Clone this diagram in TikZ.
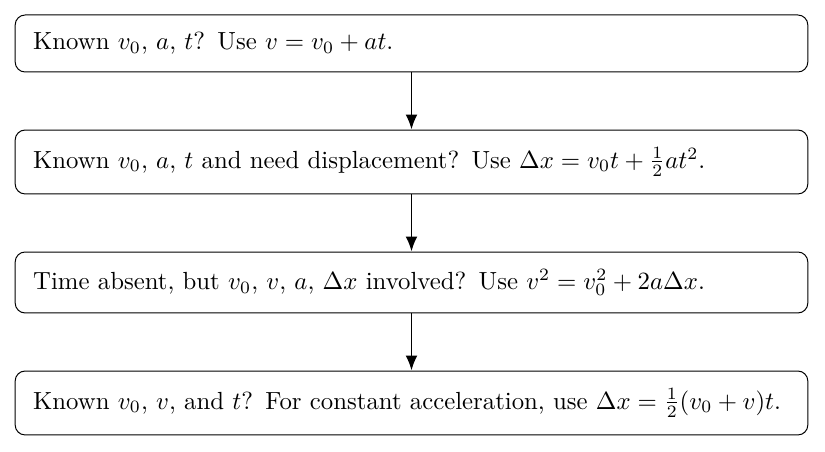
\documentclass[tikz,border=0pt]{standalone}
\usetikzlibrary{arrows.meta}
\begin{document}
\begin{tikzpicture}[x=0.4035pt,y=-0.4035pt,
  stepbox/.style={draw,line width=0.4pt,rounded corners=4pt,inner xsep=7.26pt,inner ysep=0pt,
    text width=305.3pt,align=left,minimum width=319.8pt},
  arr/.style={line width=0.8pt,-{Latex[length=6pt,width=4.8pt]}}]
\useasboundingbox (0,0) rectangle (825,452);
\node[stepbox,minimum height=23pt] (b1) at (411.5,43.5) {Known $v_0$, $a$, $t$? Use $v=v_0+at$.};
\node[stepbox,minimum height=25.8pt] (b2) at (411.5,162) {Known $v_0$, $a$, $t$ and need displacement? Use $\Delta x=v_0t+\frac{1}{2}at^2$.};
\node[stepbox,minimum height=24.6pt] (b3) at (411.5,282.5) {Time absent, but $v_0$, $v$, $a$, $\Delta x$ involved? Use $v^2=v_0^2+2a\Delta x$.};
\node[stepbox,minimum height=25.8pt] (b4) at (411.5,403) {Known $v_0$, $v$, and $t$? For constant acceleration, use $\Delta x=\frac{1}{2}(v_0+v)t$.};
\draw[arr] (b1) -- (b2);
\draw[arr] (b2) -- (b3);
\draw[arr] (b3) -- (b4);
\end{tikzpicture}
\end{document}
